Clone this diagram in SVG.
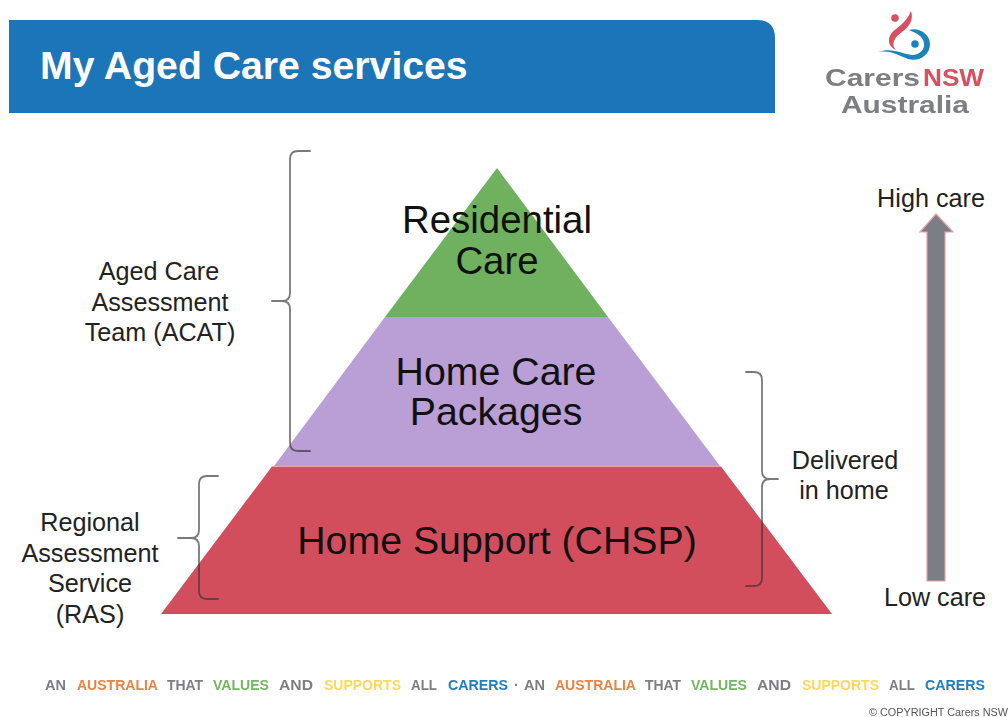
<svg xmlns="http://www.w3.org/2000/svg" width="1008" height="717" viewBox="0 0 1008 717">
<defs><filter id="soft" x="-5%" y="-20%" width="110%" height="140%"><feGaussianBlur stdDeviation="0.55"/></filter></defs>
<style>
text{font-family:"Liberation Sans",Arial,sans-serif;fill:#111}
.m{text-anchor:middle}
.t{font-size:39.3px}
.l{font-size:25.2px;fill:#222}
.b{fill:none;stroke-width:1.8;stroke:#333;stroke-opacity:.65;stroke-linecap:round}
.f{font-size:14px;font-weight:700}
.g{fill:#7b7e84}.o{fill:#f08140}.v{fill:#72b85f}.y{fill:#fbd95a}.c{fill:#1f7fbf}
</style>
<rect width="1008" height="717" fill="#fff"/>
<g id="banner">
<path d="M9 20H757Q775 20 775 38V113H9Z" fill="#1c75b8"/>
<text x="40" y="79" font-size="39.2" font-weight="700" style="fill:#fff">My Aged Care services</text>
</g>
<g id="logo" filter="url(#soft)">
<circle cx="895" cy="18" r="3.8" fill="#d94f60"/>
<path d="M911 11C914 20 909 27 902 32C895 37 890 44 896 50C889 47 887 40 891 34C895 28 906 24 911 11Z" fill="#d94f60"/>
<path d="M909 30C920 27 930 35 930 44C930 56 918 62 908 59C899 56 892 50 878 52C892 47 902 54 912 55C920 55 925 49 924 43C923 36 916 33 909 30Z" fill="#1f84bd"/>
<circle cx="915" cy="44" r="3.8" fill="#1f84bd"/>
<text x="825" y="86" font-size="24.500" font-weight="700" style="fill:#7b7e84" textLength="95" lengthAdjust="spacingAndGlyphs">Carers</text>
<text x="923" y="86" font-size="24.500" font-weight="700" style="fill:#d94f60" textLength="61" lengthAdjust="spacingAndGlyphs">NSW</text>
<text x="841" y="113" font-size="24.500" font-weight="700" style="fill:#7b7e84" textLength="128" lengthAdjust="spacingAndGlyphs">Australia</text>
</g>
<g id="tier-residential">
<polygon points="497,168 608,317 385,317" fill="#6fb15f"/>
<text class="t m" x="497" y="233" style="font-size:38.4px">Residential</text>
<text class="t m" x="497" y="274" style="font-size:38.4px">Care</text>
</g>
<g id="tier-home-care">
<polygon points="385,317 608,317 720,466 274,466" fill="#b99fd5"/>
<text class="t m" x="496" y="385">Home Care</text>
<text class="t m" x="496" y="425">Packages</text>
</g>
<g id="tier-home-support">
<polygon points="272,466.500 721,466.500 832,614 161,614" fill="#d34e5c"/>
<text class="t m" x="497" y="554">Home Support (CHSP)</text>
</g>
<g id="connectors">
<path class="b" d="M310 151H298Q290 151 290 159V293Q290 301 282 301H272M282 301Q290 301 290 309V443Q290 451 298 451H310"/>
<path class="b" d="M218 476H207Q199 476 199 484V530Q199 538 191 538H178M191 538Q199 538 199 546V591Q199 599 207 599H218"/>
<path class="b" d="M746 372H754Q762 372 762 380V471Q762 479 770 479H778M770 479Q762 479 762 487V578Q762 586 754 586H746"/>
</g>
<g id="arrow">
<path d="M936 214L953 232H945V581H927V232H920Z" fill="#7b7e84" stroke="#e8a0a8" stroke-width="1.2"/>
<text class="l m" x="931" y="207">High care</text>
<text class="l m" x="935" y="606">Low care</text>
</g>
<g id="label-acat">
<text class="l m" x="159" y="280">Aged Care</text>
<text class="l m" x="160" y="311">Assessment</text>
<text class="l m" x="160" y="341">Team (ACAT)</text>
</g>
<g id="label-ras">
<text class="l m" x="90" y="531">Regional</text>
<text class="l m" x="90" y="562">Assessment</text>
<text class="l m" x="90" y="592">Service</text>
<text class="l m" x="90" y="623">(RAS)</text>
</g>
<g id="label-home">
<text class="l m" x="845" y="469">Delivered</text>
<text class="l m" x="844" y="499">in home</text>
</g>
<g id="footer" filter="url(#soft)">
<text class="f g" x="45" y="690" textLength="21" lengthAdjust="spacingAndGlyphs">AN</text>
<text class="f o" x="77" y="690" textLength="81" lengthAdjust="spacingAndGlyphs">AUSTRALIA</text>
<text class="f g" x="167" y="690" textLength="36" lengthAdjust="spacingAndGlyphs">THAT</text>
<text class="f v" x="213" y="690" textLength="56" lengthAdjust="spacingAndGlyphs">VALUES</text>
<text class="f g" x="279" y="690" textLength="34" lengthAdjust="spacingAndGlyphs">AND</text>
<text class="f y" x="324" y="690" textLength="77" lengthAdjust="spacingAndGlyphs">SUPPORTS</text>
<text class="f g" x="411" y="690" textLength="26" lengthAdjust="spacingAndGlyphs">ALL</text>
<text class="f c" x="448" y="690" textLength="60" lengthAdjust="spacingAndGlyphs">CARERS</text>
<text class="f g" x="514" y="690">·</text>
<text class="f g" x="524" y="690" textLength="21" lengthAdjust="spacingAndGlyphs">AN</text>
<text class="f o" x="555" y="690" textLength="81" lengthAdjust="spacingAndGlyphs">AUSTRALIA</text>
<text class="f g" x="645" y="690" textLength="36" lengthAdjust="spacingAndGlyphs">THAT</text>
<text class="f v" x="691" y="690" textLength="56" lengthAdjust="spacingAndGlyphs">VALUES</text>
<text class="f g" x="757" y="690" textLength="34" lengthAdjust="spacingAndGlyphs">AND</text>
<text class="f y" x="802" y="690" textLength="77" lengthAdjust="spacingAndGlyphs">SUPPORTS</text>
<text class="f g" x="889" y="690" textLength="26" lengthAdjust="spacingAndGlyphs">ALL</text>
<text class="f c" x="925" y="690" textLength="60" lengthAdjust="spacingAndGlyphs">CARERS</text>
<text x="869" y="716" font-size="10" style="fill:#555" textLength="139" lengthAdjust="spacingAndGlyphs">© COPYRIGHT Carers NSW</text>
</g>
</svg>
